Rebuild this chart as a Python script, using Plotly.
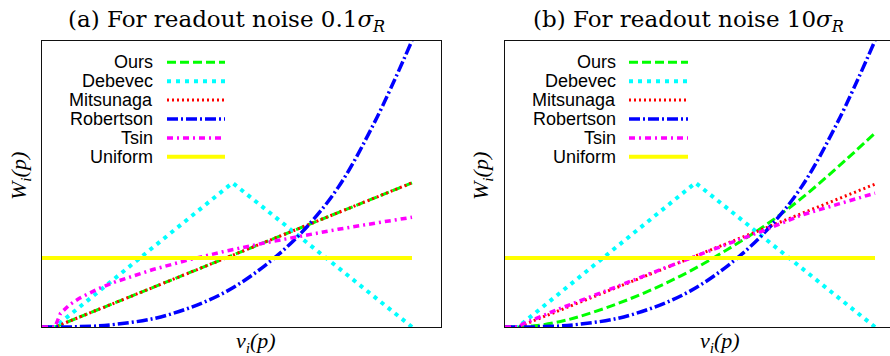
import plotly.graph_objects as go

# ---- data -------------------------------------------------------------
x_grid = [0, 0.035, 0.05, 0.075, 0.1, 0.15, 0.2, 0.3, 0.4, 0.5, 0.6, 0.7, 0.8, 0.9, 1.0]

series_names = ["Ours", "Debevec", "Mitsunaga", "Robertson", "Tsin", "Uniform"]

# (a) readout noise 0.1 sigma_R
ours_a = [0, 0, 0.032, 0.087, 0.141, 0.249, 0.357, 0.574, 0.791, 1.007, 1.224, 1.440, 1.657, 1.873, 2.09]
mitsunaga_a = [0, 0, 0.032, 0.087, 0.141, 0.249, 0.357, 0.574, 0.791, 1.007, 1.224, 1.440, 1.657, 1.873, 2.09]
robertson_a = [0, 0, 0.0001, 0.0003, 0.005, 0.015, 0.04, 0.12, 0.28, 0.52, 0.88, 1.36, 2.02, 2.98, 4.15]
tsin_a = [0, 0, 0.198, 0.324, 0.413, 0.549, 0.657, 0.833, 0.978, 1.104, 1.217, 1.320, 1.416, 1.505, 1.59]

# (b) readout noise 10 sigma_R
ours_b = [0, 0, 0.005, 0.015, 0.03, 0.08, 0.15, 0.33, 0.55, 0.81, 1.12, 1.46, 1.86, 2.32, 2.81]
mitsunaga_b = [0, 0, 0.032, 0.086, 0.139, 0.247, 0.354, 0.568, 0.783, 0.997, 1.212, 1.426, 1.641, 1.855, 2.07]
robertson_b = [0, 0, 0.0001, 0.0003, 0.005, 0.015, 0.04, 0.12, 0.28, 0.52, 0.88, 1.36, 2.02, 2.98, 4.15]
tsin_b = [0, 0, 0.05, 0.10, 0.16, 0.27, 0.37, 0.58, 0.79, 1.00, 1.20, 1.40, 1.62, 1.78, 1.94]

# Debevec hat weighting (same in both panels)
debevec_x = [0, 0.035, 0.515, 1.0]
debevec_y = [0, 0, 2.09, 0]

uniform_x = [0, 1.0]
uniform_y = [1, 1]

titles = ["(a) For readout noise 0.1<i>σ</i><sub><i>R</i></sub>",
          "(b) For readout noise 10<i>σ</i><sub><i>R</i></sub>"]
x_label = "<i>v</i><sub><i>i</i></sub><i>(p)</i>"
y_label = "<i>W</i><sub><i>i</i></sub><i>(p)</i>"

# ---- styles -----------------------------------------------------------
styles = {
    "Ours":      dict(color="#00ff00", width=3,   dash="9px,4px"),
    "Debevec":   dict(color="#00ffff", width=4,   dash="4px,5px"),
    "Mitsunaga": dict(color="#ff0000", width=3,   dash="2px,3px"),
    "Robertson": dict(color="#0000ff", width=3.5, dash="11px,3px,2px,3px"),
    "Tsin":      dict(color="#ff00ff", width=3.5, dash="6px,4px,2px,4px"),
    "Uniform":   dict(color="#ffff00", width=4,   dash="solid"),
}

W, H = 890, 356
ML, MR, MT, MB = 42, 0, 41, 29
PW, PH = W - ML - MR, H - MT - MB


def px(x):
    return (x - ML) / PW


def py(y):
    return (H - MB - y) / PH


fig = go.Figure()

panels = [
    ("x", "y", {"Ours": (x_grid, ours_a), "Debevec": (debevec_x, debevec_y),
                "Mitsunaga": (x_grid, mitsunaga_a), "Robertson": (x_grid, robertson_a),
                "Tsin": (x_grid, tsin_a), "Uniform": (uniform_x, uniform_y)}),
    ("x2", "y2", {"Ours": (x_grid, ours_b), "Debevec": (debevec_x, debevec_y),
                  "Mitsunaga": (x_grid, mitsunaga_b), "Robertson": (x_grid, robertson_b),
                  "Tsin": (x_grid, tsin_b), "Uniform": (uniform_x, uniform_y)}),
]

for xa, ya, data in panels:
    for name in series_names:
        xs, ys = data[name]
        curved = name == "Robertson" or (name == "Ours" and xa == "x2")
        fig.add_trace(go.Scatter(
            x=xs, y=ys, mode="lines", name=name, showlegend=False,
            line=dict(shape="spline" if curved else "linear", **styles[name]),
            xaxis=xa, yaxis=ya, hoverinfo="skip"))

axis_common = dict(showgrid=False, zeroline=False, showticklabels=False, ticks="",
                   showline=True, linecolor="#111", linewidth=1.2)

fig.update_layout(
    width=W, height=H,
    margin=dict(l=ML, r=MR, t=MT, b=MB),
    paper_bgcolor="white", plot_bgcolor="white",
    xaxis=dict(domain=[0, px(441)], range=[0, 399 / 370], mirror=True, **axis_common),
    yaxis=dict(domain=[0, 1], range=[0, 286 / 69], mirror=True, **axis_common),
    xaxis2=dict(domain=[px(505), 1], range=[0, 385 / 370], mirror=True, anchor="y2", **axis_common),
    yaxis2=dict(domain=[0, 1], range=[0, 286 / 69], mirror=False, anchor="x2", **axis_common),
)

annotations = []
shapes = []

serif_title = dict(family="DejaVu Serif", size=23, color="black")
serif_label = dict(family="Liberation Serif, Times New Roman, Times, serif", size=22, color="black")
sans_legend = dict(family="Liberation Sans, Arial", size=18, color="black")

for i, (title_cx, ylab_cx, xlab_cx, leg_text_r, leg_x0, leg_x1) in enumerate([
        (226, 20, 256, 155, 167, 225),
        (688, 482, 720, 618, 629, 688)]):
    annotations.append(dict(text=titles[i], x=px(title_cx), y=py(21), xref="paper", yref="paper",
                            showarrow=False, xanchor="center", yanchor="middle", font=serif_title))
    annotations.append(dict(text=y_label, x=px(ylab_cx), y=py(176), xref="paper", yref="paper",
                            showarrow=False, textangle=-90, xanchor="center", yanchor="middle",
                            font=serif_label))
    annotations.append(dict(text=x_label, x=px(xlab_cx), y=py(342), xref="paper", yref="paper",
                            showarrow=False, xanchor="center", yanchor="middle", font=serif_label))
    for k, name in enumerate(series_names):
        row_y = 62.3 + k * 18.9
        annotations.append(dict(text=name, x=px(leg_text_r), y=py(row_y), xref="paper", yref="paper",
                                showarrow=False, xanchor="right", yanchor="middle", font=sans_legend))
        shapes.append(dict(type="line", xref="paper", yref="paper",
                           x0=px(leg_x0), x1=px(leg_x1), y0=py(row_y), y1=py(row_y),
                           line=styles[name]))

fig.update_layout(annotations=annotations, shapes=shapes)

fig.write_html("out.html")
